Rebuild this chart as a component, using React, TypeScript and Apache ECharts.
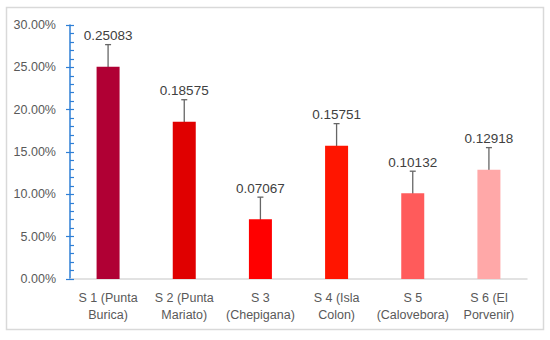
import React, { useEffect, useRef } from "react";
import * as echarts from "echarts";

const categories = [
  "S 1 (Punta\nBurica)",
  "S 2 (Punta\nMariato)",
  "S 3\n(Chepigana)",
  "S 4 (Isla\nColon)",
  "S 5\n(Calovebora)",
  "S 6 (El\nPorvenir)",
];
const values = [0.25083, 0.18575, 0.07067, 0.15751, 0.10132, 0.12918];
const errors = [0.026, 0.026, 0.026, 0.026, 0.026, 0.026];
const barColors = ["#B00034", "#E00000", "#FF0000", "#FF1500", "#FF5B5B", "#FFA8A8"];
const labelTexts = ["0.25083", "0.18575", "0.07067", "0.15751", "0.10132", "0.12918"];

const FONT = "'Liberation Sans', Arial, sans-serif";

export default function App() {
  const ref = useRef<HTMLDivElement>(null);
  useEffect(() => {
    document.body.style.margin = "0";
    if (!ref.current) return;
    const chart = echarts.init(ref.current, undefined, { renderer: "svg" });
    const yCommon = {
      type: "value",
      min: 0,
      max: 0.3,
      interval: 0.05,
      splitLine: { show: false },
    };
    chart.setOption({
      animation: false,
      backgroundColor: "#ffffff",
      graphic: [
        {
          type: "rect",
          shape: { x: 6.5, y: 7.5, width: 537, height: 322 },
          style: { fill: "none", stroke: "#d9d9d9", lineWidth: 1.5 },
          silent: true,
        },
      ],
      grid: { left: 70, right: 23, top: 25, bottom: 61 },
      xAxis: {
        type: "category",
        data: categories,
        axisLine: { show: true, lineStyle: { color: "#d9d9d9", width: 1.5 } },
        axisTick: { show: false },
        axisLabel: {
          color: "#595959",
          fontFamily: FONT,
          fontSize: 12.5,
          lineHeight: 17,
          margin: 10,
          interval: 0,
        },
      },
      yAxis: [
        {
          ...yCommon,
          axisLine: { show: true, lineStyle: { color: "#2e7fd6", width: 1.5 } },
          axisTick: { show: true, inside: true, length: 4, lineStyle: { color: "#2e7fd6", width: 1.2 } },
          minorTick: { show: true, splitNumber: 5, length: 4, lineStyle: { color: "#2e7fd6", width: 1.2 } },
          axisLabel: {
            color: "#595959",
            fontFamily: FONT,
            fontSize: 12.5,
            margin: 14,
            formatter: (v: number) => (v * 100).toFixed(2) + "%",
          },
        },
        {
          ...yCommon,
          position: "left",
          axisLine: { show: false },
          axisTick: { show: true, inside: false, length: 4, lineStyle: { color: "#2e7fd6", width: 1.2 } },
          axisLabel: { show: false },
        },
      ],
      series: [
        {
          type: "bar",
          barWidth: 23,
          data: values.map((v, i) => ({ value: v, itemStyle: { color: barColors[i] } })),
        },
        {
          type: "custom",
          data: values.map((v, i) => [i, v, errors[i]]),
          renderItem: (params: any, api: any) => {
            const i = api.value(0);
            const v = api.value(1);
            const e = api.value(2);
            const top = api.coord([i, v + e]);
            const bot = api.coord([i, v - e]);
            const x = top[0];
            const cap = 3;
            const stroke = { stroke: "#666666", lineWidth: 1.3 };
            return {
              type: "group",
              children: [
                { type: "line", shape: { x1: x, y1: top[1], x2: x, y2: bot[1] }, style: stroke },
                { type: "line", shape: { x1: x - cap, y1: top[1], x2: x + cap, y2: top[1] }, style: stroke },
                { type: "line", shape: { x1: x - cap, y1: bot[1], x2: x + cap, y2: bot[1] }, style: stroke },
                {
                  type: "text",
                  style: {
                    text: labelTexts[params.dataIndex],
                    x: x,
                    y: top[1] - 2,
                    textAlign: "center",
                    textVerticalAlign: "bottom",
                    fill: "#404040",
                    font: `13.5px ${FONT}`,
                  },
                },
              ],
            };
          },
        },
      ],
    });
    return () => chart.dispose();
  }, []);
  return <div ref={ref} style={{ width: 550, height: 340 }} />;
}
